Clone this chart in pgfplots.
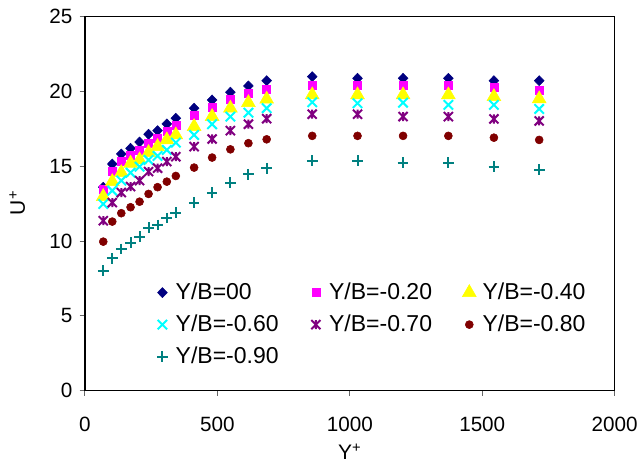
\documentclass[border=0pt]{standalone}
\usepackage{fontspec}
\setmainfont{Liberation Sans}
\usepackage{pgfplots}
\usepackage{pgfplotstable}
\pgfplotsset{compat=1.18}
\definecolor{cNavy}{HTML}{000080}
\definecolor{cMag}{HTML}{FF00FF}
\definecolor{cYel}{HTML}{FFFF00}
\definecolor{cCyan}{HTML}{00FFFF}
\definecolor{cPurp}{HTML}{800080}
\definecolor{cRed}{HTML}{800000}
\definecolor{cTeal}{HTML}{008080}
\pgfdeclareplotmark{xstar}{%
  \pgfpathmoveto{\pgfqpoint{-\pgfplotmarksize}{-\pgfplotmarksize}}%
  \pgfpathlineto{\pgfqpoint{\pgfplotmarksize}{\pgfplotmarksize}}%
  \pgfpathmoveto{\pgfqpoint{-\pgfplotmarksize}{\pgfplotmarksize}}%
  \pgfpathlineto{\pgfqpoint{\pgfplotmarksize}{-\pgfplotmarksize}}%
  \pgfpathmoveto{\pgfqpoint{0pt}{-\pgfplotmarksize}}%
  \pgfpathlineto{\pgfqpoint{0pt}{\pgfplotmarksize}}%
  \pgfusepathqstroke}
\pgfplotstableread{
x d s t c a r p
69 13.60 13.46 12.97 12.48 11.36 9.96 8.02
103 15.15 14.69 13.97 13.37 12.57 11.30 8.85
137 15.82 15.31 14.57 14.04 13.24 11.86 9.47
172 16.20 15.71 15.20 14.57 13.64 12.26 9.89
206 16.62 16.09 15.42 14.97 14.04 12.63 10.29
240 17.14 16.54 15.91 15.42 14.64 13.15 10.90
274 17.38 16.87 16.31 15.69 14.87 13.60 11.08
309 17.83 17.31 16.76 16.09 15.31 13.97 11.53
343 18.21 17.76 17.09 16.58 15.64 14.35 11.90
412 18.88 18.38 17.65 17.09 16.31 14.91 12.57
480 19.43 18.92 18.32 17.81 16.82 15.58 13.24
549 19.95 19.48 18.88 18.32 17.38 16.13 13.90
617 20.37 19.88 19.25 18.58 17.81 16.54 14.46
686 20.72 20.15 19.48 18.88 18.18 16.80 14.87
858 20.99 20.39 19.77 19.28 18.48 17.03 15.37
1029 20.88 20.39 19.77 19.21 18.48 17.03 15.37
1201 20.88 20.39 19.77 19.25 18.32 17.03 15.24
1372 20.88 20.39 19.77 19.10 18.32 17.03 15.24
1544 20.72 20.25 19.65 19.10 18.16 16.91 14.97
1715 20.72 20.10 19.50 18.83 18.03 16.76 14.77
}\data
\begin{document}
\begin{tikzpicture}
\begin{axis}[
  scale only axis, width=397.3pt, height=280.5pt,
  xmin=0, xmax=2000, ymin=0, ymax=25,
  xtick={0,500,...,2000}, ytick={0,5,...,25},
  tick align=outside, xtick pos=left, ytick pos=left,
  major tick length=4pt,
  tick style={color=gray!80!black, line width=0.75pt},
  axis line style={line width=0.9pt},
  /pgf/number format/assume math mode=true,
  /pgf/number format/1000 sep={},
  ticklabel style={font=\fontsize{15.5}{18}\selectfont},
  xticklabel style={yshift=-12pt},
  yticklabel style={xshift=-2pt},
  xlabel={Y\textsuperscript{+}}, ylabel={U\textsuperscript{+}},
  label style={font=\fontsize{15.75}{18}\selectfont},
  xlabel style={at={(axis description cs:0.5,-0.164)}, anchor=center},
  ylabel style={at={(axis description cs:-0.128,0.502)}, anchor=center},
  legend columns=3,
  legend cell align=left,
  legend style={draw=none, fill=none, at={(rel axis cs:0.12,0.302)}, anchor=north west,
    font=\fontsize{17.25}{20}\selectfont,
    /tikz/every even column/.append style={column sep=18.75pt}, row sep=6pt},
  legend image code/.code={\path (0pt,0pt) (14.75pt,0pt); \draw[#1] plot coordinates {(7pt,0pt)};},
]
\addplot[only marks, mark=diamond*, color=cNavy, mark size=3.75pt, mark options={xscale=1.3}] table[x=x,y=d]{\data};
\addlegendentry{Y/B=00}
\addplot[only marks, mark=square*, color=cMag, mark size=3pt] table[x=x,y=s]{\data};
\addlegendentry{Y/B=-0.20}
\addplot[only marks, mark=triangle*, color=cYel, mark size=6pt] table[x=x,y=t]{\data};
\addlegendentry{Y/B=-0.40}
\addplot[only marks, mark=x, color=cCyan, mark size=5pt, mark options={line width=1.5pt}] table[x=x,y=c]{\data};
\addlegendentry{Y/B=-0.60}
\addplot[only marks, mark=xstar, color=cPurp, mark size=3.4pt, mark options={line width=1.5pt}] table[x=x,y=a]{\data};
\addlegendentry{Y/B=-0.70}
\addplot[only marks, mark=*, color=cRed, mark size=3pt] table[x=x,y=r]{\data};
\addlegendentry{Y/B=-0.80}
\addplot[only marks, mark=+, color=cTeal, mark size=4pt, mark options={line width=1.5pt}] table[x=x,y=p]{\data};
\addlegendentry{Y/B=-0.90}
\coordinate (sw) at (rel axis cs:0,0);
\coordinate (ne) at (rel axis cs:1,1);
\end{axis}
\pgfresetboundingbox
\path ([shift={(-63.75pt,-56.5pt)}]sw) rectangle ([shift={(17.5pt,12.5pt)}]ne);
\end{tikzpicture}
\end{document}
